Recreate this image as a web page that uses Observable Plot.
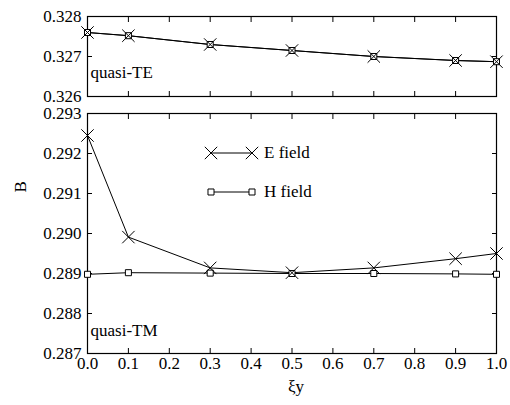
<!DOCTYPE html>
<html><head><meta charset="utf-8">
<script src="https://cdn.jsdelivr.net/npm/d3@7"></script>
<script src="https://cdn.jsdelivr.net/npm/@observablehq/plot@0.6"></script>
<style>
body{margin:0;background:#fff;}
#chart{position:relative;width:510px;height:405px;font-family:"Liberation Serif",serif;}
#chart > svg{position:absolute;left:0;}
#chart svg text{font-family:"Liberation Serif",serif !important;}
</style></head><body><div id="chart"></div>
<script>
const xi = [0.0, 0.1, 0.3, 0.5, 0.7, 0.9, 1.0];
const teE = [0.32760, 0.32752, 0.32730, 0.32715, 0.32700, 0.32690, 0.32687];
const teH = [0.32760, 0.32752, 0.32730, 0.32715, 0.32700, 0.32690, 0.32687];
const tmE = [0.29245, 0.28991, 0.28914, 0.28902, 0.28914, 0.28937, 0.28950];
const tmH = [0.28898, 0.28902, 0.28901, 0.28900, 0.28900, 0.28899, 0.28898];
const xTicks = [0, 0.1, 0.2, 0.3, 0.4, 0.5, 0.6, 0.7, 0.8, 0.9, 1.0];
const teTicks = [0.326, 0.327, 0.328];
const tmTicks = [0.287, 0.288, 0.289, 0.290, 0.291, 0.292, 0.293];
const seriesNames = ["E field", "H field"];
const panelLabels = ["quasi-TE", "quasi-TM"];
const xLabel = "ξy";
const yLabel = "B";

const rows = (ys) => xi.map((x, i) => ({x, y: ys[i]}));
const FS = 17;
const FF = '"Liberation Serif", serif';
const chart = document.getElementById("chart");

function panel({yDomain, yTicks, E, H, xLabels, height, marginTop, marginBottom, extra}) {
  return Plot.plot({
    width: 510, height, marginLeft: 87, marginRight: 14, marginTop, marginBottom,
    style: {fontFamily: FF, fontSize: FS + "px", color: "black", background: "transparent", overflow: "visible"},
    x: {domain: [0, 1]},
    y: {domain: yDomain},
    marks: [
      Plot.frame({stroke: "black", strokeWidth: 1.2}),
      Plot.axisX({anchor: "bottom", ticks: xTicks, tickSize: -5, tickPadding: 8, label: null,
        tickFormat: xLabels ? d3.format(".1f") : () => "", fontSize: FS, fontFamily: FF}),
      Plot.axisX({anchor: "top", ticks: xTicks, tickSize: -5, label: null, tickFormat: () => ""}),
      Plot.axisY({anchor: "left", ticks: yTicks, tickSize: -5, tickPadding: 11, label: null,
        tickFormat: d3.format(".3f"), fontSize: FS, fontFamily: FF}),
      Plot.axisY({anchor: "right", ticks: yTicks, tickSize: -5, label: null, tickFormat: () => ""}),
      Plot.line(rows(H), {x: "x", y: "y", stroke: "black", strokeWidth: 1}),
      Plot.line(rows(E), {x: "x", y: "y", stroke: "black", strokeWidth: 1}),
      Plot.dot(rows(H), {x: "x", y: "y", symbol: "square", r: 3.4, fill: "white", stroke: "black", strokeWidth: 1}),
      Plot.dot(rows(E), {x: "x", y: "y", symbol: "times", r: 5.7, stroke: "black", strokeWidth: 1}),
      ...extra
    ]
  });
}

const topPanel = panel({yDomain: [0.326, 0.328], yTicks: teTicks, E: teE, H: teH, xLabels: false,
  height: 110, marginTop: 16, marginBottom: 14,
  extra: [Plot.text([panelLabels[0]], {text: d => d, frameAnchor: "bottom-left", textAnchor: "start", lineAnchor: "bottom", dx: 3, dy: -19, fontSize: FS, fontFamily: FF})]});
topPanel.style.top = "0px";

const bottomPanel = panel({yDomain: [0.287, 0.293], yTicks: tmTicks, E: tmE, H: tmH, xLabels: true,
  height: 305, marginTop: 13, marginBottom: 52,
  extra: [
    Plot.text([panelLabels[1]], {text: d => d, frameAnchor: "bottom-left", textAnchor: "start", lineAnchor: "bottom", dx: 3, dy: -18, fontSize: FS, fontFamily: FF}),
    Plot.text([xLabel], {text: d => d, frameAnchor: "bottom", lineAnchor: "bottom", dx: 4, dy: 38, fontSize: FS, fontFamily: FF}),
    Plot.text([yLabel], {text: d => d, frameAnchor: "left", rotate: -90, dx: -67, dy: -41, fontSize: FS, fontFamily: FF})
  ]});
bottomPanel.style.top = "100px";

chart.appendChild(bottomPanel);
chart.appendChild(topPanel);

// legend overlay
const leg = d3.select(chart).append("svg").attr("width", 510).attr("height", 405).style("top", "0px").style("pointer-events", "none");
const legendRows = [{name: seriesNames[0], sym: d3.symbolTimes, y: 153, size: 5.7 * 5.7 * Math.PI, fill: "none"},
                    {name: seriesNames[1], sym: d3.symbolSquare, y: 192, size: 3.4 * 3.4 * Math.PI, fill: "white"}];
legendRows.forEach(r => {
  const g = leg.append("g");
  g.append("line").attr("x1", 211).attr("x2", 252).attr("y1", r.y).attr("y2", r.y).attr("stroke", "black");
  [211, 252].forEach(x => g.append("path").attr("d", d3.symbol(r.sym, r.size)()).attr("transform", `translate(${x},${r.y})`).attr("stroke", "black").attr("fill", r.fill));
  g.append("text").attr("x", 264).attr("y", r.y + 5).attr("font-size", FS).attr("font-family", FF).text(r.name);
});
</script></body></html>
